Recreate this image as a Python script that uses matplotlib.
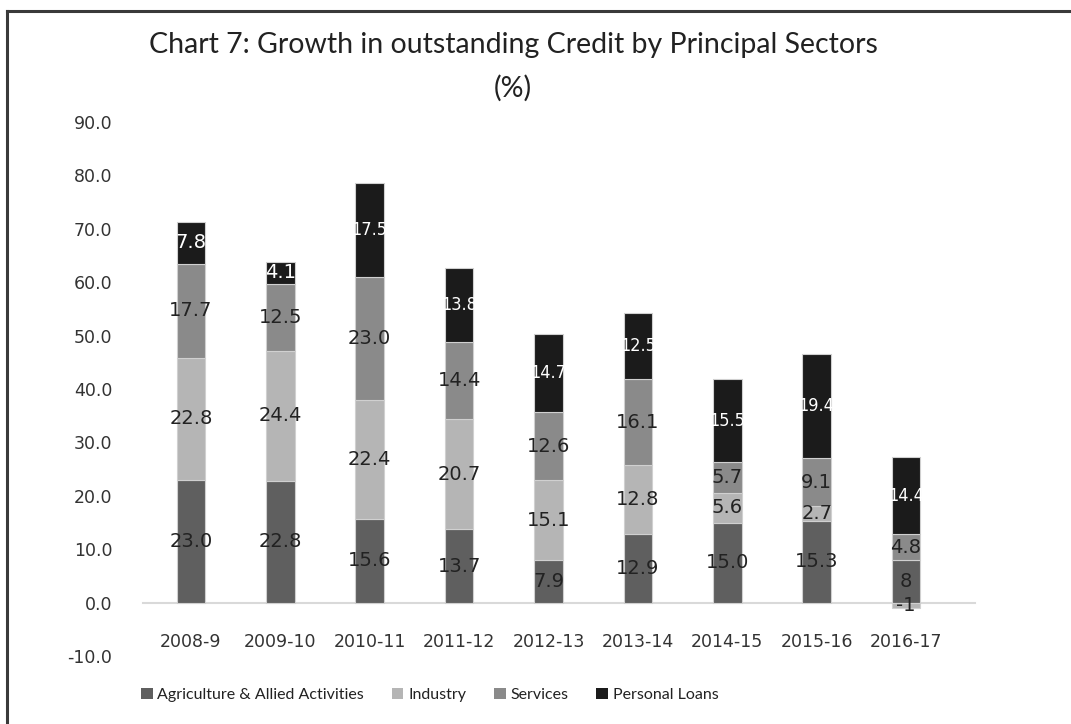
import matplotlib
matplotlib.use("Agg")
import matplotlib.pyplot as plt
from matplotlib import font_manager as fm
from matplotlib.lines import Line2D
from matplotlib.patches import Patch
import numpy as np

years = ["2008-9", "2009-10", "2010-11", "2011-12", "2012-13", "2013-14", "2014-15", "2015-16", "2016-17"]
agriculture = [23.0, 22.8, 15.6, 13.7, 7.9, 12.9, 15.0, 15.3, 8]
industry = [22.8, 24.4, 22.4, 20.7, 15.1, 12.8, 5.6, 2.7, -1]
services = [17.7, 12.5, 23.0, 14.4, 12.6, 16.1, 5.7, 9.1, 4.8]
personal = [7.8, 4.1, 17.5, 13.8, 14.7, 12.5, 15.5, 19.4, 14.4]
# decimals shown in the data labels (the 2016-17 agriculture/industry labels are integers)
agriculture_dec = [1, 1, 1, 1, 1, 1, 1, 1, 0]
industry_dec = [1, 1, 1, 1, 1, 1, 1, 1, 0]
services_dec = [1] * 9
personal_dec = [1] * 9
series_names = ["Agriculture & Allied Activities", "Industry", "Services", "Personal Loans"]
yticks = [-10, 0, 10, 20, 30, 40, 50, 60, 70, 80, 90]

colors = ["#5f5f5f", "#b5b5b5", "#8a8a8a", "#1b1b1b"]
names = {f.name for f in fm.fontManager.ttflist}
narrow = "Liberation Sans Narrow" if "Liberation Sans Narrow" in names else "DejaVu Sans Condensed"
title_font = "Lato"

fig = plt.figure(figsize=(10.71, 7.24), dpi=100)
W, H = 1071, 724
ax = fig.add_axes([143 / W, (H - 656) / H, 832 / W, 534 / H])

x = np.arange(len(years))
width = 0.32
data = [agriculture, industry, services, personal]
decs = [agriculture_dec, industry_dec, services_dec, personal_dec]
pos_base = np.zeros(len(years))
neg_base = np.zeros(len(years))
for k, (vals, col, dec) in enumerate(zip(data, colors, decs)):
    vals = np.array(vals, dtype=float)
    bottoms = np.where(vals >= 0, pos_base, neg_base)
    ax.bar(x, vals, width, bottom=bottoms, color=col, edgecolor="#d0d0d0",
           linewidth=0.8, zorder=3)
    for i, v in enumerate(vals):
        yc = bottoms[i] + v / 2
        txt = f"{v:.{dec[i]}f}"
        if k == 3:
            if v < 10:
                ax.text(x[i], yc, txt, ha="center", va="center", color="white",
                        fontsize=14, zorder=5)
            else:
                ax.text(x[i], yc, txt, ha="center", va="center", color="white",
                        fontsize=13, family=narrow, stretch="condensed", zorder=5)
        else:
            ax.text(x[i], yc, txt, ha="center", va="center", color="#222222",
                    fontsize=14, zorder=5)
    pos_base = pos_base + np.where(vals >= 0, vals, 0)
    neg_base = neg_base + np.where(vals < 0, vals, 0)

for s in ["top", "right", "left"]:
    ax.spines[s].set_visible(False)
ax.spines["bottom"].set_position(("data", 0))
ax.spines["bottom"].set_color("#d9d9d9")
ax.spines["bottom"].set_linewidth(1.5)
ax.spines["bottom"].set_zorder(2)

ax.set_xlim(-0.537, 8.772)
ax.set_ylim(-10, 90)
ax.set_yticks(yticks)
ax.set_yticklabels([f"{t:.1f}" for t in yticks])
ax.set_xticks(x)
ax.set_xticklabels(years)
ax.tick_params(axis="both", length=0, labelsize=12.5, labelcolor="#333333")
ax.tick_params(axis="y", pad=22)
ax.tick_params(axis="x", pad=22)

fig.text(513 / W, 1 - 45 / H, "Chart 7: Growth in outstanding Credit by Principal Sectors",
         ha="center", va="center", fontsize=20.5, family=title_font, color="#222222")
fig.text(513 / W, 1 - 88 / H, "(%)", ha="center", va="center", fontsize=20.5,
         family=title_font, color="#222222")

handles = [Patch(facecolor=c, edgecolor="none") for c in colors]
leg = fig.legend(handles, series_names, loc="center left", bbox_to_anchor=(141 / W, 1 - 695 / H),
                 ncol=4, frameon=False, prop={"family": title_font, "size": 11.5},
                 handlelength=0.72, handleheight=0.72, handletextpad=0.3, columnspacing=1.75,
                 borderpad=0, borderaxespad=0)
for t in leg.get_texts():
    t.set_color("#222222")

# outer frame (left and top visible)
fig.add_artist(Line2D([7 / W, 7 / W], [0, 1 - 11 / H], transform=fig.transFigure,
                      color="#3a3a3a", linewidth=2.2))
fig.add_artist(Line2D([7 / W, 1], [1 - 11 / H, 1 - 11 / H], transform=fig.transFigure,
                      color="#3a3a3a", linewidth=2.2))

fig.savefig("out.png", dpi=100)
